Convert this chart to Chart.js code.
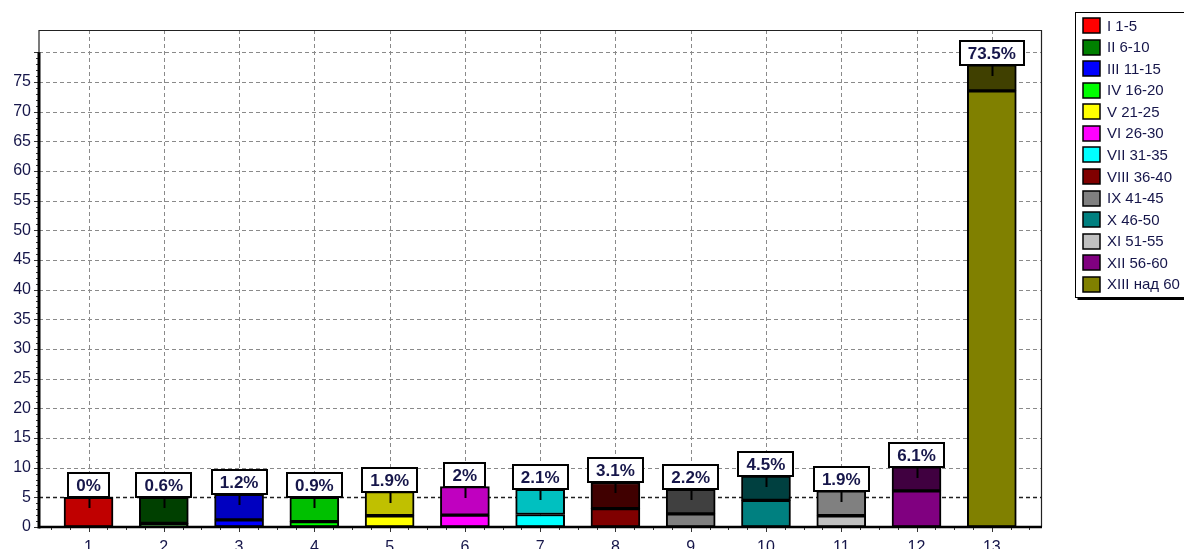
<!DOCTYPE html>
<html><head><meta charset="utf-8">
<script src="https://cdn.jsdelivr.net/npm/chart.js@4"></script>
<style>html,body{margin:0;padding:0;background:#fff;}#wrap{width:1184px;height:549px;}</style>
</head><body><div id="wrap"><canvas id="c" width="1184" height="549"></canvas></div>
<script>
const categories = [1,2,3,4,5,6,7,8,9,10,11,12,13];
const values = [0, 0.6, 1.2, 0.9, 1.9, 2, 2.1, 3.1, 2.2, 4.5, 1.9, 6.1, 73.5];
const upperBounds = [5.0, 5.0, 5.5, 5.0, 5.95, 6.8, 6.35, 7.5, 6.35, 8.6, 6.1, 10.15, 77.9];
const legendLabels = ["I 1-5","II 6-10","III 11-15","IV 16-20","V 21-25","VI 26-30","VII 31-35","VIII 36-40","IX 41-45","X 46-50","XI 51-55","XII 56-60","XIII над 60"];
const lowerColors = ['#FF0000','#008000','#0000FF','#00FF00','#FFFF00','#FF00FF','#00FFFF','#800000','#808080','#008080','#C0C0C0','#800080','#808000'];
const upperColors = ['#C00000','#004000','#0000C0','#00C000','#C0C000','#C000C0','#00C0C0','#400000','#404040','#004040','#808080','#400040','#404000'];
const threshold = 5;
const yTickStep = 5;
const yMaxLabel = 75;
const yGridMax = 80;

const TXT = '#16164a';
const FONT = "'Liberation Sans', Arial, sans-serif";

function line(ctx,x1,y1,x2,y2){ctx.beginPath();ctx.moveTo(x1,y1);ctx.lineTo(x2,y2);ctx.stroke();}

const deco = {
  id:'deco',
  beforeDatasetsDraw(chart){
    const {ctx, chartArea:a, scales:{x,y}} = chart;
    ctx.save();
    ctx.lineWidth = 1;
    ctx.setLineDash([4,3]);
    ctx.strokeStyle = '#8a8a8a';
    for (let v = yTickStep; v <= yGridMax; v += yTickStep){
      if (v === threshold) continue;
      const py = Math.round(y.getPixelForValue(v)) + 0.5;
      line(ctx, a.left, py, a.right, py);
    }
    categories.forEach(c => {
      const px = Math.round(x.getPixelForValue(c)) + 0.5;
      line(ctx, px, a.top, px, a.bottom);
    });
    ctx.strokeStyle = '#202020';
    ctx.lineWidth = 1.3;
    const ty = Math.round(y.getPixelForValue(threshold)) + 0.5;
    line(ctx, a.left, ty, a.right, ty);
    ctx.restore();
  },
  afterDatasetsDraw(chart){
    const {ctx, chartArea:a, scales:{x,y}} = chart;
    ctx.save();
    ctx.setLineDash([]);
    // frame
    ctx.strokeStyle = '#222'; ctx.lineWidth = 1.2;
    line(ctx, a.left, a.top + 0.5, a.right, a.top + 0.5);
    line(ctx, a.right - 0.5, a.top, a.right - 0.5, a.bottom);
    line(ctx, a.left, a.top, a.left, y.getPixelForValue(yGridMax));
    // minor ticks
    ctx.strokeStyle = '#333'; ctx.lineWidth = 1;
    for (let v = 0; v <= yGridMax; v += 1){
      const py = Math.round(y.getPixelForValue(v)) + 0.5;
      const len = v % yTickStep === 0 ? 5 : 3;
      line(ctx, a.left - len, py, a.left, py);
    }
    const x0 = categories[0] - 0.5, x1 = categories[categories.length-1] + 0.5;
    for (let v = x0; v <= x1 + 0.001; v += 0.25){
      const px = Math.round(x.getPixelForValue(v)) + 0.5;
      if (px < a.left || px > a.right) continue;
      const len = Number.isInteger(v) ? 5 : 3;
      line(ctx, px, a.bottom, px, a.bottom + len);
    }
    // axes
    ctx.strokeStyle = '#000'; ctx.lineWidth = 3;
    line(ctx, a.left, y.getPixelForValue(yGridMax), a.left, a.bottom + 1.5);
    ctx.lineWidth = 2.5;
    line(ctx, a.left, a.bottom, a.right, a.bottom);
    // value labels
    ctx.font = 'bold 17px ' + FONT;
    ctx.textAlign = 'center'; ctx.textBaseline = 'middle';
    categories.forEach((c, i) => {
      const txt = String(values[i]) + '%';
      const cx = x.getPixelForValue(c);
      const bottom = Math.round(y.getPixelForValue(upperBounds[i]));
      const w = Math.round(ctx.measureText(txt).width + 16);
      const h = 24;
      const left = Math.round(cx - w/2);
      ctx.fillStyle = '#fff';
      ctx.fillRect(left, bottom - h, w, h);
      ctx.strokeStyle = '#000'; ctx.lineWidth = 2;
      ctx.strokeRect(left, bottom - h, w, h);
      line(ctx, Math.round(cx)+0.5, bottom, Math.round(cx)+0.5, bottom + 11);
      ctx.fillStyle = TXT;
      ctx.fillText(txt, cx, bottom - h/2 + 1);
    });
    // legend
    const lx = 1075.5, ly = 12.5, lw = 120, lh = 285;
    ctx.fillStyle = '#fff';
    ctx.fillRect(lx, ly, lw, lh);
    ctx.strokeStyle = '#000'; ctx.lineWidth = 1;
    ctx.strokeRect(lx, ly, lw, lh);
    ctx.lineWidth = 2;
    line(ctx, lx + 2, ly + lh + 1.5, lx + lw + 2, ly + lh + 1.5);
    ctx.font = '15px ' + FONT;
    ctx.textAlign = 'left'; ctx.textBaseline = 'middle';
    legendLabels.forEach((lab, i) => {
      const cy = 25.5 + i * 21.57;
      ctx.fillStyle = lowerColors[i];
      ctx.fillRect(1083, Math.round(cy - 7.5), 17, 15);
      ctx.strokeStyle = '#000'; ctx.lineWidth = 1.5;
      ctx.strokeRect(1083, Math.round(cy - 7.5), 17, 15);
      ctx.fillStyle = TXT;
      ctx.fillText(lab, 1107, cy + 1);
    });
    ctx.restore();
  }
};

const lowerData = categories.map((c, i) => ({x: c, y: [0, values[i]]}));
const upperData = categories.map((c, i) => ({x: c, y: [values[i], upperBounds[i]]}));

new Chart(document.getElementById('c'), {
  type: 'bar',
  data: {
    datasets: [
      {data: lowerData, backgroundColor: lowerColors, borderColor: '#000', borderWidth: 2, borderSkipped: false, grouped: false, barThickness: 49},
      {data: upperData, backgroundColor: upperColors, borderColor: '#000', borderWidth: 2, borderSkipped: false, grouped: false, barThickness: 49}
    ]
  },
  options: {
    responsive: false,
    animation: false,
    devicePixelRatio: 1,
    layout: {padding: {left: 0, right: 142, top: 30, bottom: 0}},
    plugins: {legend: {display: false}, tooltip: {enabled: false}},
    scales: {
      x: {
        type: 'linear', min: 0.342, max: 13.667, offset: false,
        grid: {display: false, drawTicks: false}, border: {display: false},
        afterBuildTicks: s => { s.ticks = categories.map(v => ({value: v})); },
        ticks: {autoSkip: false, maxRotation: 0, padding: 11, color: TXT, font: {family: FONT, size: 16},
          callback: v => String(v)},
        afterFit: s => { s.height = 22; }
      },
      y: {
        min: 0, max: 83.75,
        grid: {display: false, drawTicks: false}, border: {display: false},
        afterBuildTicks: s => { const t = []; for (let v = 0; v <= yMaxLabel; v += yTickStep) t.push({value: v}); s.ticks = t; },
        ticks: {autoSkip: false, padding: 8, color: TXT, font: {family: FONT, size: 16},
          callback: v => String(v)},
        afterFit: s => { s.width = 39; }
      }
    }
  },
  plugins: [deco]
});
</script>
</body></html>
